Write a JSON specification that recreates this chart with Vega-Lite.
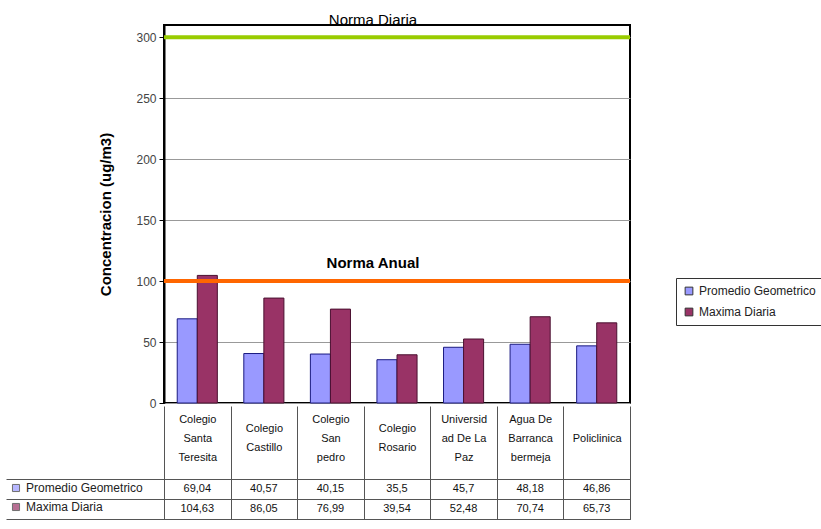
{
  "$schema": "https://vega.github.io/schema/vega-lite/v6.json",
  "padding": {"left": 5, "top": 12, "right": 5, "bottom": 4},
  "config": {
    "font": "Liberation Sans",
    "locale": {"number": {"decimal": ",", "thousands": ".", "grouping": [3], "currency": ["", ""]}},
    "view": {"stroke": null},
    "concat": {"spacing": -5}
  },
  "datasets": {
    "normas": [
      {"norma": "Norma Diaria", "limite": 300},
      {"norma": "Norma Anual", "limite": 100}
    ]
  },
  "data": {
    "values": [
      {"sitio": "Colegio Santa Teresita", "serie": "Promedio Geometrico", "valor": 69.04},
      {"sitio": "Colegio Santa Teresita", "serie": "Maxima Diaria", "valor": 104.63},
      {"sitio": "Colegio Castillo", "serie": "Promedio Geometrico", "valor": 40.57},
      {"sitio": "Colegio Castillo", "serie": "Maxima Diaria", "valor": 86.05},
      {"sitio": "Colegio San pedro", "serie": "Promedio Geometrico", "valor": 40.15},
      {"sitio": "Colegio San pedro", "serie": "Maxima Diaria", "valor": 76.99},
      {"sitio": "Colegio Rosario", "serie": "Promedio Geometrico", "valor": 35.5},
      {"sitio": "Colegio Rosario", "serie": "Maxima Diaria", "valor": 39.54},
      {"sitio": "Universidad De La Paz", "serie": "Promedio Geometrico", "valor": 45.7},
      {"sitio": "Universidad De La Paz", "serie": "Maxima Diaria", "valor": 52.48},
      {"sitio": "Agua De Barrancabermeja", "serie": "Promedio Geometrico", "valor": 48.18},
      {"sitio": "Agua De Barrancabermeja", "serie": "Maxima Diaria", "valor": 70.74},
      {"sitio": "Policlinica", "serie": "Promedio Geometrico", "valor": 46.86},
      {"sitio": "Policlinica", "serie": "Maxima Diaria", "valor": 65.73}
    ]
  },
  "vconcat": [
    {
      "width": 466,
      "height": 378,
      "view": {"stroke": "#000", "strokeWidth": 2},
      "layer": [
        {
          "mark": {"type": "bar", "strokeWidth": 1},
          "encoding": {
            "x": {"field": "sitio", "type": "nominal", "sort": null, "scale": {"paddingInner": 0, "paddingOuter": 0}, "axis": null},
            "xOffset": {"field": "serie", "type": "nominal", "sort": ["Promedio Geometrico", "Maxima Diaria"], "scale": {"paddingOuter": 0.66, "paddingInner": 0}},
            "y": {
              "field": "valor", "type": "quantitative",
              "scale": {"domain": [0, 310], "nice": false},
              "axis": {
                "values": [0, 50, 100, 150, 200, 250, 300],
                "title": "Concentracion (ug/m3)",
                "titleFontSize": 15, "titleFontWeight": "bold", "titleColor": "#000", "titlePadding": 22,
                "labelFontSize": 12, "labelColor": "#444", "labelPadding": 3,
                "tickColor": "#000", "tickSize": 5,
                "domainColor": "#000", "domainWidth": 2,
                "grid": true, "gridColor": "#999", "gridWidth": 1
              }
            },
            "color": {
              "field": "serie", "type": "nominal",
              "scale": {"domain": ["Promedio Geometrico", "Maxima Diaria"], "range": ["#9999FF", "#993366"]},
              "legend": {
                "orient": "none", "legendX": 512, "legendY": 253, "title": null,
                "symbolType": "square", "symbolSize": 60, "symbolStrokeColor": "#333", "symbolStrokeWidth": 1,
                "labelFontSize": 12, "labelColor": "#222", "labelOffset": 4,
                "strokeColor": "#333", "fillColor": "#fff", "padding": 7, "rowPadding": 9
              }
            },
            "stroke": {
              "field": "serie", "type": "nominal",
              "scale": {"domain": ["Promedio Geometrico", "Maxima Diaria"], "range": ["#1a1a80", "#4a1030"]},
              "legend": null
            }
          }
        },
        {
          "data": {"name": "normas"},
          "transform": [{"filter": "datum.norma == 'Norma Diaria'"}],
          "mark": {"type": "rule", "color": "#99CC00", "strokeWidth": 4},
          "encoding": {"y": {"field": "limite", "type": "quantitative"}}
        },
        {
          "data": {"name": "normas"},
          "transform": [{"filter": "datum.norma == 'Norma Anual'"}],
          "mark": {"type": "rule", "color": "#FF6600", "strokeWidth": 4},
          "encoding": {"y": {"field": "limite", "type": "quantitative"}}
        },
        {
          "data": {"name": "normas"},
          "transform": [{"filter": "datum.norma == 'Norma Diaria'"}],
          "mark": {"type": "text", "fontSize": 15, "fontWeight": "normal", "color": "#000", "dx": -24, "dy": -17},
          "encoding": {"y": {"field": "limite", "type": "quantitative"}, "text": {"field": "norma"}}
        },
        {
          "data": {"name": "normas"},
          "transform": [{"filter": "datum.norma == 'Norma Anual'"}],
          "mark": {"type": "text", "fontSize": 15, "fontWeight": "bold", "color": "#000", "dx": -24, "dy": -18},
          "encoding": {"y": {"field": "limite", "type": "quantitative"}, "text": {"field": "norma"}}
        }
      ]
    },
    {
      "width": 466,
      "height": 40,
      "view": {"stroke": "#555"},
      "layer": [
        {
          "mark": {"type": "text", "fontSize": 11, "color": "#111"},
          "encoding": {
            "x": {
              "field": "sitio", "type": "nominal", "sort": null,
              "scale": {"paddingInner": 0, "paddingOuter": 0},
              "axis": {
                "orient": "top", "title": null, "tickBand": "extent", "tickSize": 73, "tickColor": "#555",
                "domainColor": "#555", "grid": true, "gridColor": "#555",
                "labelExpr": "datum.label == 'Universidad De La Paz' ? ['Universid', 'ad De La', 'Paz'] : datum.label == 'Agua De Barrancabermeja' ? ['Agua De', 'Barranca', 'bermeja'] : split(datum.label, ' ')",
                "labelAngle": 0, "labelBaseline": "middle",
                "labelPadding": {
                  "condition": [
                    {"test": "datum.value == 'Policlinica'", "value": -32},
                    {"test": "datum.value == 'Colegio Castillo' || datum.value == 'Colegio Rosario'", "value": -22}
                  ],
                  "value": -13
                },
                "labelLineHeight": 19,
                "labelFontSize": 11, "labelColor": "#111", "labelLimit": 0
              }
            },
            "y": {
              "field": "serie", "type": "nominal", "sort": ["Promedio Geometrico", "Maxima Diaria"],
              "scale": {"paddingInner": 0, "paddingOuter": 0},
              "axis": {"title": null, "labels": false, "tickBand": "extent", "tickSize": 158, "tickColor": "#555", "domain": false, "grid": true, "gridColor": "#555"}
            },
            "text": {"field": "valor", "type": "quantitative", "format": "~g"}
          }
        },
        {
          "transform": [{"filter": "false"}],
          "mark": {"type": "point", "shape": "square", "filled": true},
          "encoding": {
            "x": {"field": "sitio", "type": "nominal", "sort": null},
            "y": {"field": "serie", "type": "nominal", "sort": ["Promedio Geometrico", "Maxima Diaria"]},
            "color": {
              "field": "serie", "type": "nominal",
              "legend": {
                "orient": "none", "legendX": -156, "legendY": 1, "title": null,
                "symbolType": "square", "symbolSize": 50, "symbolStrokeColor": "#333", "symbolStrokeWidth": 1,
                "labelFontSize": 12, "labelColor": "#222", "labelOffset": 4, "padding": 2, "rowPadding": 7
              }
            }
          }
        }
      ]
    }
  ],
  "resolve": {"legend": {"color": "independent"}}
}
